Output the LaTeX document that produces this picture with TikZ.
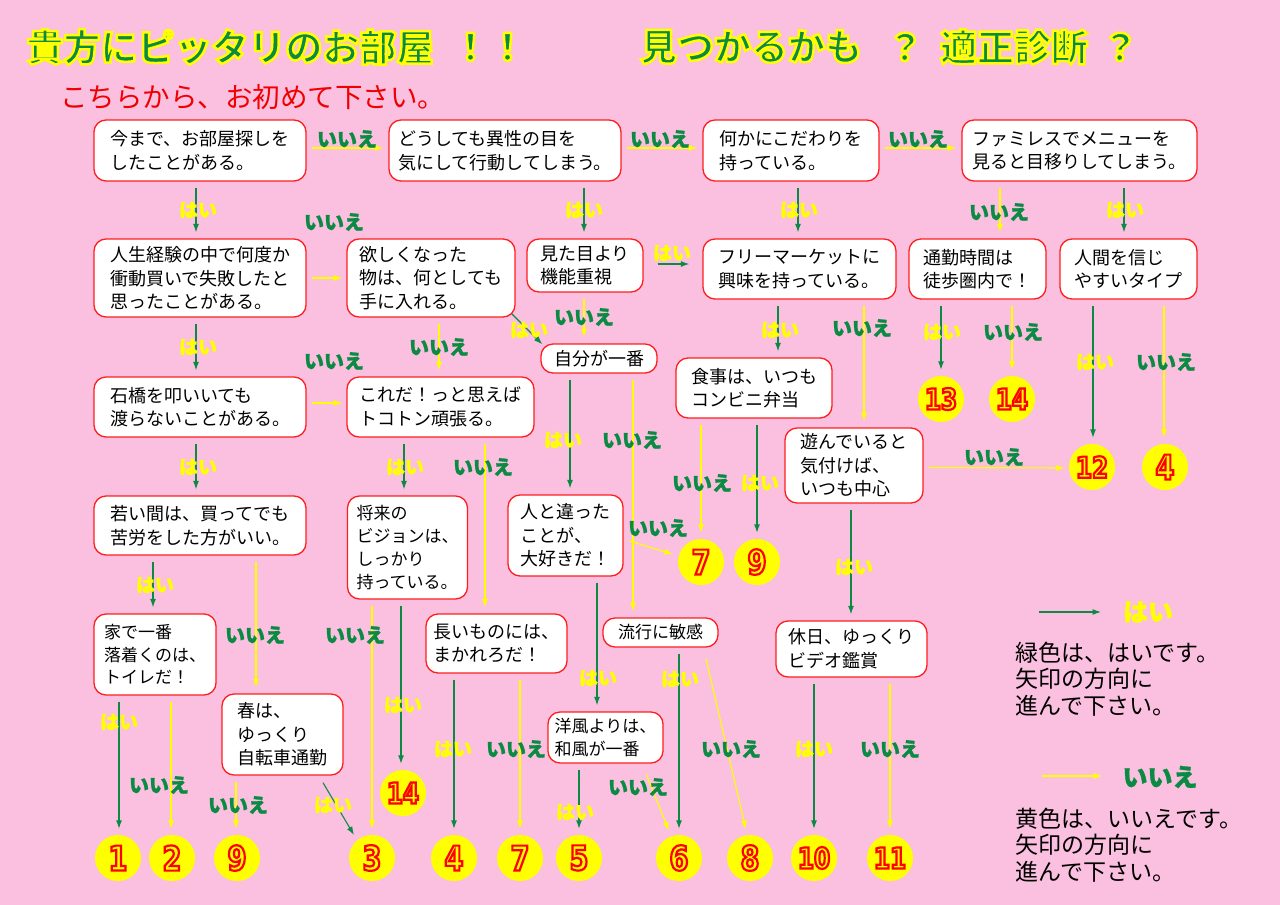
\documentclass[tikz,border=0pt]{standalone}
\usepackage{fontspec}
\setmainfont{Noto Sans CJK JP}
\newfontfamily\numfont{DejaVu Sans}[FakeStretch=0.8]
\newfontfamily\heavyjp{Noto Sans CJK JP}[BoldFeatures={FakeBold=1.2}]
\usetikzlibrary{arrows.meta}
\definecolor{bgpink}{HTML}{FBC0DF}
\definecolor{gg}{HTML}{0B8A44}
\definecolor{yy}{HTML}{FFFF00}
\definecolor{bred}{HTML}{FF1E1E}
\definecolor{subred}{HTML}{F00000}
\newcommand{\outl}[3]{\special{pdf:literal direct #2 w #1 RG 2 Tr}#3\special{pdf:literal direct 0 Tr}}
\newcommand{\numtxt}[1]{\color{yy}\outl{1 0 0}{2.2}{#1}}
\newcommand{\varr}[5]{\draw[#1] ([xshift=#3pt,yshift=-6pt]#2.south) -- ([xshift=#5pt,yshift=6pt]#4.north);}
\tikzset{
  box/.style={draw=bred, line width=1.3pt, fill=white, rounded corners=12pt, inner sep=0pt, align=left, font=\fontsize{18}{23.5}\selectfont},
  ga/.style={color=gg, line width=1.1pt, -{Latex[length=8.5pt,width=6pt]}},
  ya/.style={color=yy, line width=1.1pt, -{Latex[length=8.5pt,width=6pt]}},
  hai/.style={text=yy, font=\heavyjp\fontsize{19}{19}\selectfont\bfseries, inner sep=0pt},
  iie/.style={text=gg, font=\heavyjp\fontsize{20}{20}\selectfont\bfseries, inner sep=0pt},
  num/.style={circle, fill=yy, minimum size=46pt, inner sep=0pt, font=\numfont\bfseries\fontsize{34}{34}\selectfont},
  numb/.style={num, font=\numfont\bfseries\fontsize{29}{29}\selectfont},
  ttl/.style={text=gg, font=\fontsize{37}{37}\selectfont\bfseries, inner sep=0pt},
  legtxt/.style={anchor=west, align=left, inner sep=0pt, font=\fontsize{23}{26.5}\selectfont},
  small/.style={font=\fontsize{17}{22.7}\selectfont}
}
\begin{document}
\begin{tikzpicture}[x=1pt,y=-1pt]
\useasboundingbox (0,0) rectangle (1280,905);
\fill[bgpink] (0,0) rectangle (1280,905);

% title
\node[ttl] (t1) at (230,47) {\outl{1 1 0}{2.5}{貴方にピッタリのお部屋}};
\node[ttl] (t2) at (489,47) {\outl{1 1 0}{2.5}{！！}};
\node[ttl] (t3) at (751,47) {\outl{1 1 0}{2.5}{見つかるかも}};
\node[ttl] (t4) at (905,47) {\outl{1 1 0}{2.5}{？}};
\node[ttl] (t5) at (1014,47) {\outl{1 1 0}{2.5}{適正診断}};
\node[ttl] (t6) at (1120,47) {\outl{1 1 0}{2.5}{？}};
\node[anchor=west, text=subred, font=\fontsize{27.5}{27.5}\selectfont, inner sep=0pt] (sub) at (60,97) {こちらから、お初めて下さい。};

% boxes
\node[box, minimum width=212pt, minimum height=61pt] (A) at (200,150.5) {今まで、お部屋探しを\\したことがある。};
\node[box, minimum width=232pt, minimum height=61pt] (B) at (505,150.5) {どうしても異性の目を\\気にして行動してしまう。};
\node[box, minimum width=176pt, minimum height=61pt] (L) at (791,150.5) {何かにこだわりを\\持っている。};
\node[box, minimum width=235pt, minimum height=61pt] (M) at (1079.5,150.5) {ファミレスでメニューを\\見ると目移りしてしまう。};
\node[box, minimum width=212pt, minimum height=78pt] (C) at (200,278) {人生経験の中で何度か\\衝動買いで失敗したと\\思ったことがある。};
\node[box, minimum width=168pt, minimum height=78pt] (D) at (431,278) {欲しくなった\\物は、何としても\\手に入れる。};
\node[box, minimum width=116pt, minimum height=53pt] (E) at (585,265.5) {見た目より\\機能重視};
\node[box, minimum width=193pt, minimum height=60pt] (F) at (799.5,269) {フリーマーケットに\\興味を持っている。};
\node[box, minimum width=137pt, minimum height=60pt] (N) at (977.5,269) {通勤時間は\\徒歩圏内で！};
\node[box, minimum width=137pt, minimum height=60pt] (O) at (1128.5,269) {人間を信じ\\やすいタイプ};
\node[box, minimum width=116pt, minimum height=29pt] (I) at (599,358.5) {自分が一番};
\node[box, minimum width=156pt, minimum height=60pt] (K) at (754,388) {食事は、いつも\\コンビニ弁当};
\node[box, minimum width=212pt, minimum height=60pt] (G) at (200,407) {石橋を叩いいても\\渡らないことがある。};
\node[box, minimum width=187pt, minimum height=60pt] (H) at (440.5,407) {これだ！っと思えば\\トコトン頑張る。};
\node[box, minimum width=138pt, minimum height=75pt] (P) at (854,465.5) {遊んでいると\\気付けば、\\いつも中心};
\node[box, minimum width=212pt, minimum height=59pt] (T) at (200,525.5) {若い間は、買ってでも\\苦労をした方がいい。};
\node[box, small, minimum width=120pt, minimum height=103pt] (U) at (407.5,547.5) {将来の\\ビジョンは、\\しっかり\\持っている。};
\node[box, minimum width=115pt, minimum height=81pt] (J) at (565.5,535.5) {人と違った\\ことが、\\大好きだ！};
\node[box, small, minimum width=122pt, minimum height=81pt] (W) at (155,654.5) {家で一番\\落着くのは、\\トイレだ！};
\node[box, minimum width=141pt, minimum height=59pt] (Y) at (496.5,643.5) {長いものには、\\まかれろだ！};
\node[box, small, minimum width=115pt, minimum height=29pt] (Q) at (660.5,632.5) {流行に敏感};
\node[box, minimum width=151pt, minimum height=56pt] (S) at (851.5,649) {休日、ゆっくり\\ビデオ鑑賞};
\node[box, small, minimum width=115pt, minimum height=51pt] (R) at (605.5,737.5) {洋風よりは、\\和風が一番};
\node[box, minimum width=121pt, minimum height=81pt] (X) at (282.5,734.5) {春は、\\ゆっくり\\自転車通勤};

% result circles
\node[numb] (c13) at (941,399) {\numtxt{13}};
\node[numb] (c14a) at (1012,399) {\numtxt{14}};
\node[numb] (c12) at (1092,467) {\numtxt{12}};
\node[num] (c4a) at (1165,467) {\numtxt{4}};
\node[num] (c7a) at (701,562) {\numtxt{7}};
\node[num] (c9a) at (757,562) {\numtxt{9}};
\node[numb] (c14b) at (403,793) {\numtxt{14}};
\node[num] (c1) at (118,858) {\numtxt{1}};
\node[num] (c2) at (172,858) {\numtxt{2}};
\node[num] (c9b) at (237,858) {\numtxt{9}};
\node[num] (c3) at (372,858) {\numtxt{3}};
\node[num] (c4b) at (454,858) {\numtxt{4}};
\node[num] (c7b) at (520,858) {\numtxt{7}};
\node[num] (c5) at (579,858) {\numtxt{5}};
\node[num] (c6) at (679,858) {\numtxt{6}};
\node[num] (c8) at (750,858) {\numtxt{8}};
\node[numb] (c10) at (814,858) {\numtxt{10}};
\node[numb] (c11) at (890,858) {\numtxt{11}};

% horizontal connectors
\draw[ya] ([xshift=5pt,yshift=2.5pt]A.east) -- ([xshift=-5pt,yshift=2.5pt]B.west);
\draw[ya] ([xshift=5pt,yshift=2.5pt]B.east) -- ([xshift=-5pt,yshift=2.5pt]L.west);
\draw[ya] ([xshift=5pt,yshift=2.5pt]L.east) -- ([xshift=-5pt,yshift=2.5pt]M.west);
\draw[ya] ([xshift=5pt]C.east) -- ([xshift=-4pt]D.west);
\draw[ya] ([xshift=5pt,yshift=4pt]G.east) -- ([xshift=-4pt,yshift=4pt]H.west);
\draw[ga] ([xshift=14pt,yshift=1.5pt]E.east) -- ([xshift=-13pt,yshift=5pt]F.west);
\draw[ya] ([xshift=5pt,yshift=-2pt]P.east) -- ([xshift=-4pt,yshift=-1pt]c12.west);

% vertical connectors
\varr{ga}{A}{-4}{C}{-4}
\varr{ga}{B}{79}{E}{-1}
\varr{ga}{L}{7}{F}{-1.5}
\varr{ya}{M}{-79.5}{N}{22.5}
\varr{ga}{M}{44.5}{O}{-4.5}
\varr{ga}{C}{-4}{G}{-4}
\varr{ya}{D}{8}{H}{-1.5}
\varr{ya}{E}{-1}{I}{-15}
\varr{ga}{F}{-21.5}{K}{24}
\varr{ya}{F}{64.5}{P}{10}
\varr{ga}{N}{-36.5}{c13}{0}
\varr{ya}{N}{34.5}{c14a}{0}
\varr{ga}{O}{-35.5}{c12}{1}
\varr{ya}{O}{35.5}{c4a}{-1}
\varr{ga}{I}{-29}{J}{4.5}
\varr{ya}{I}{34}{Q}{-27.5}
\varr{ya}{K}{-53}{c7a}{0}
\varr{ga}{K}{3}{c9a}{0}
\varr{ga}{G}{-4}{T}{-4}
\varr{ga}{H}{-36.5}{U}{-3.5}
\varr{ya}{H}{44.5}{Y}{-11.5}
\varr{ga}{P}{-3}{S}{-0.5}
\varr{ga}{T}{-47}{W}{-2}
\varr{ya}{T}{56}{X}{-26.5}
\varr{ya}{U}{-35.5}{c3}{0}
\varr{ga}{U}{-6.5}{c14b}{-2}
\varr{ga}{J}{31.5}{R}{-8.5}
\varr{ga}{W}{-36}{c1}{1}
\varr{ya}{W}{16}{c2}{-1}
\varr{ya}{X}{-46.5}{c9b}{-1}
\varr{ga}{Y}{-42.5}{c4b}{0}
\varr{ya}{Y}{23.5}{c7b}{0}
\varr{ga}{R}{-26.5}{c5}{0}
\varr{ga}{Q}{18.5}{c6}{0}
\varr{ga}{S}{-37.5}{c10}{0}
\varr{ya}{S}{38.5}{c11}{0}

% diagonal connectors
\draw[ga] ([xshift=-4pt,yshift=4pt]D.south east) -- ([xshift=2pt,yshift=-1pt]I.north west);
\draw[ya, shorten >=6pt] ([xshift=6pt,yshift=-5.5pt]J.east) -- (c7a.165);
\draw[ga, shorten >=6pt] ([xshift=40.5pt,yshift=-7pt]X.south) -- (c3.130);
\draw[ya, shorten >=6pt] ([xshift=40.5pt,yshift=-10pt]R.south) -- (c6.110);
\draw[ya, shorten >=6pt] ([xshift=45.5pt,yshift=-11pt]Q.south) -- (c8.97);

% labels
\node[iie] (l1) at (347,139) {いいえ};
\node[iie] (l2) at (660,139) {いいえ};
\node[iie] (l3) at (918,139) {いいえ};
\node[hai] (l4) at (198,210) {はい};
\node[hai] (l5) at (584,210) {はい};
\node[hai] (l6) at (799,210) {はい};
\node[iie] (l7) at (999,212) {いいえ};
\node[hai] (l8) at (1125,210) {はい};
\node[iie] (l9) at (334,222) {いいえ};
\node[hai] (l10) at (672,253) {はい};
\node[hai] (l11) at (198,347) {はい};
\node[iie] (l12) at (439,347) {いいえ};
\node[hai] (l13) at (529,330) {はい};
\node[iie] (l14) at (584,317) {いいえ};
\node[iie] (l15) at (334,361) {いいえ};
\node[hai] (l16) at (780,330) {はい};
\node[iie] (l17) at (862,328) {いいえ};
\node[hai] (l18) at (942,332) {はい};
\node[iie] (l19) at (1013,332) {いいえ};
\node[hai] (l20) at (1095,362) {はい};
\node[iie] (l21) at (1166,362) {いいえ};
\node[hai] (l22) at (563,440) {はい};
\node[iie] (l23) at (632,440) {いいえ};
\node[iie] (l24) at (702,483) {いいえ};
\node[hai] (l25) at (760,483) {はい};
\node[iie] (l26) at (658,528) {いいえ};
\node[hai] (l27) at (405,467) {はい};
\node[iie] (l28) at (483,467) {いいえ};
\node[hai] (l29) at (198,467) {はい};
\node[iie] (l30) at (994,457) {いいえ};
\node[hai] (l31) at (854,567) {はい};
\node[hai] (l32) at (155,585) {はい};
\node[iie] (l33) at (255,635) {いいえ};
\node[iie] (l34) at (355,635) {いいえ};
\node[hai] (l35) at (403,705) {はい};
\node[hai] (l36) at (598,678) {はい};
\node[hai] (l37) at (119,722) {はい};
\node[iie] (l38) at (159,785) {いいえ};
\node[iie] (l39) at (238,805) {いいえ};
\node[hai] (l40) at (333,805) {はい};
\node[hai] (l41) at (453,749) {はい};
\node[iie] (l42) at (516,749) {いいえ};
\node[hai] (l43) at (575,812) {はい};
\node[iie] (l44) at (638,787) {いいえ};
\node[hai] (l45) at (680,679) {はい};
\node[iie] (l46) at (731,749) {いいえ};
\node[hai] (l47) at (814,749) {はい};
\node[iie] (l48) at (890,749) {いいえ};

% legend
\coordinate (lg1) at (1039,612);
\coordinate (lg2) at (1101,612);
\draw[ga] (lg1) -- (lg2);
\node[hai, font=\heavyjp\fontsize{25}{25}\selectfont\bfseries] (lgh) at (1148,612) {はい};
\node[legtxt] (lgt1) at (1015,679) {緑色は、はいです。\\矢印の方向に\\進んで下さい。};
\coordinate (lg3) at (1042,776);
\coordinate (lg4) at (1102,776);
\draw[ya] (lg3) -- (lg4);
\node[iie, font=\heavyjp\fontsize{25}{25}\selectfont\bfseries] (lgi) at (1160,777) {いいえ};
\node[legtxt] (lgt2) at (1015,845) {黄色は、いいえです。\\矢印の方向に\\進んで下さい。};
\end{tikzpicture}
\end{document}
